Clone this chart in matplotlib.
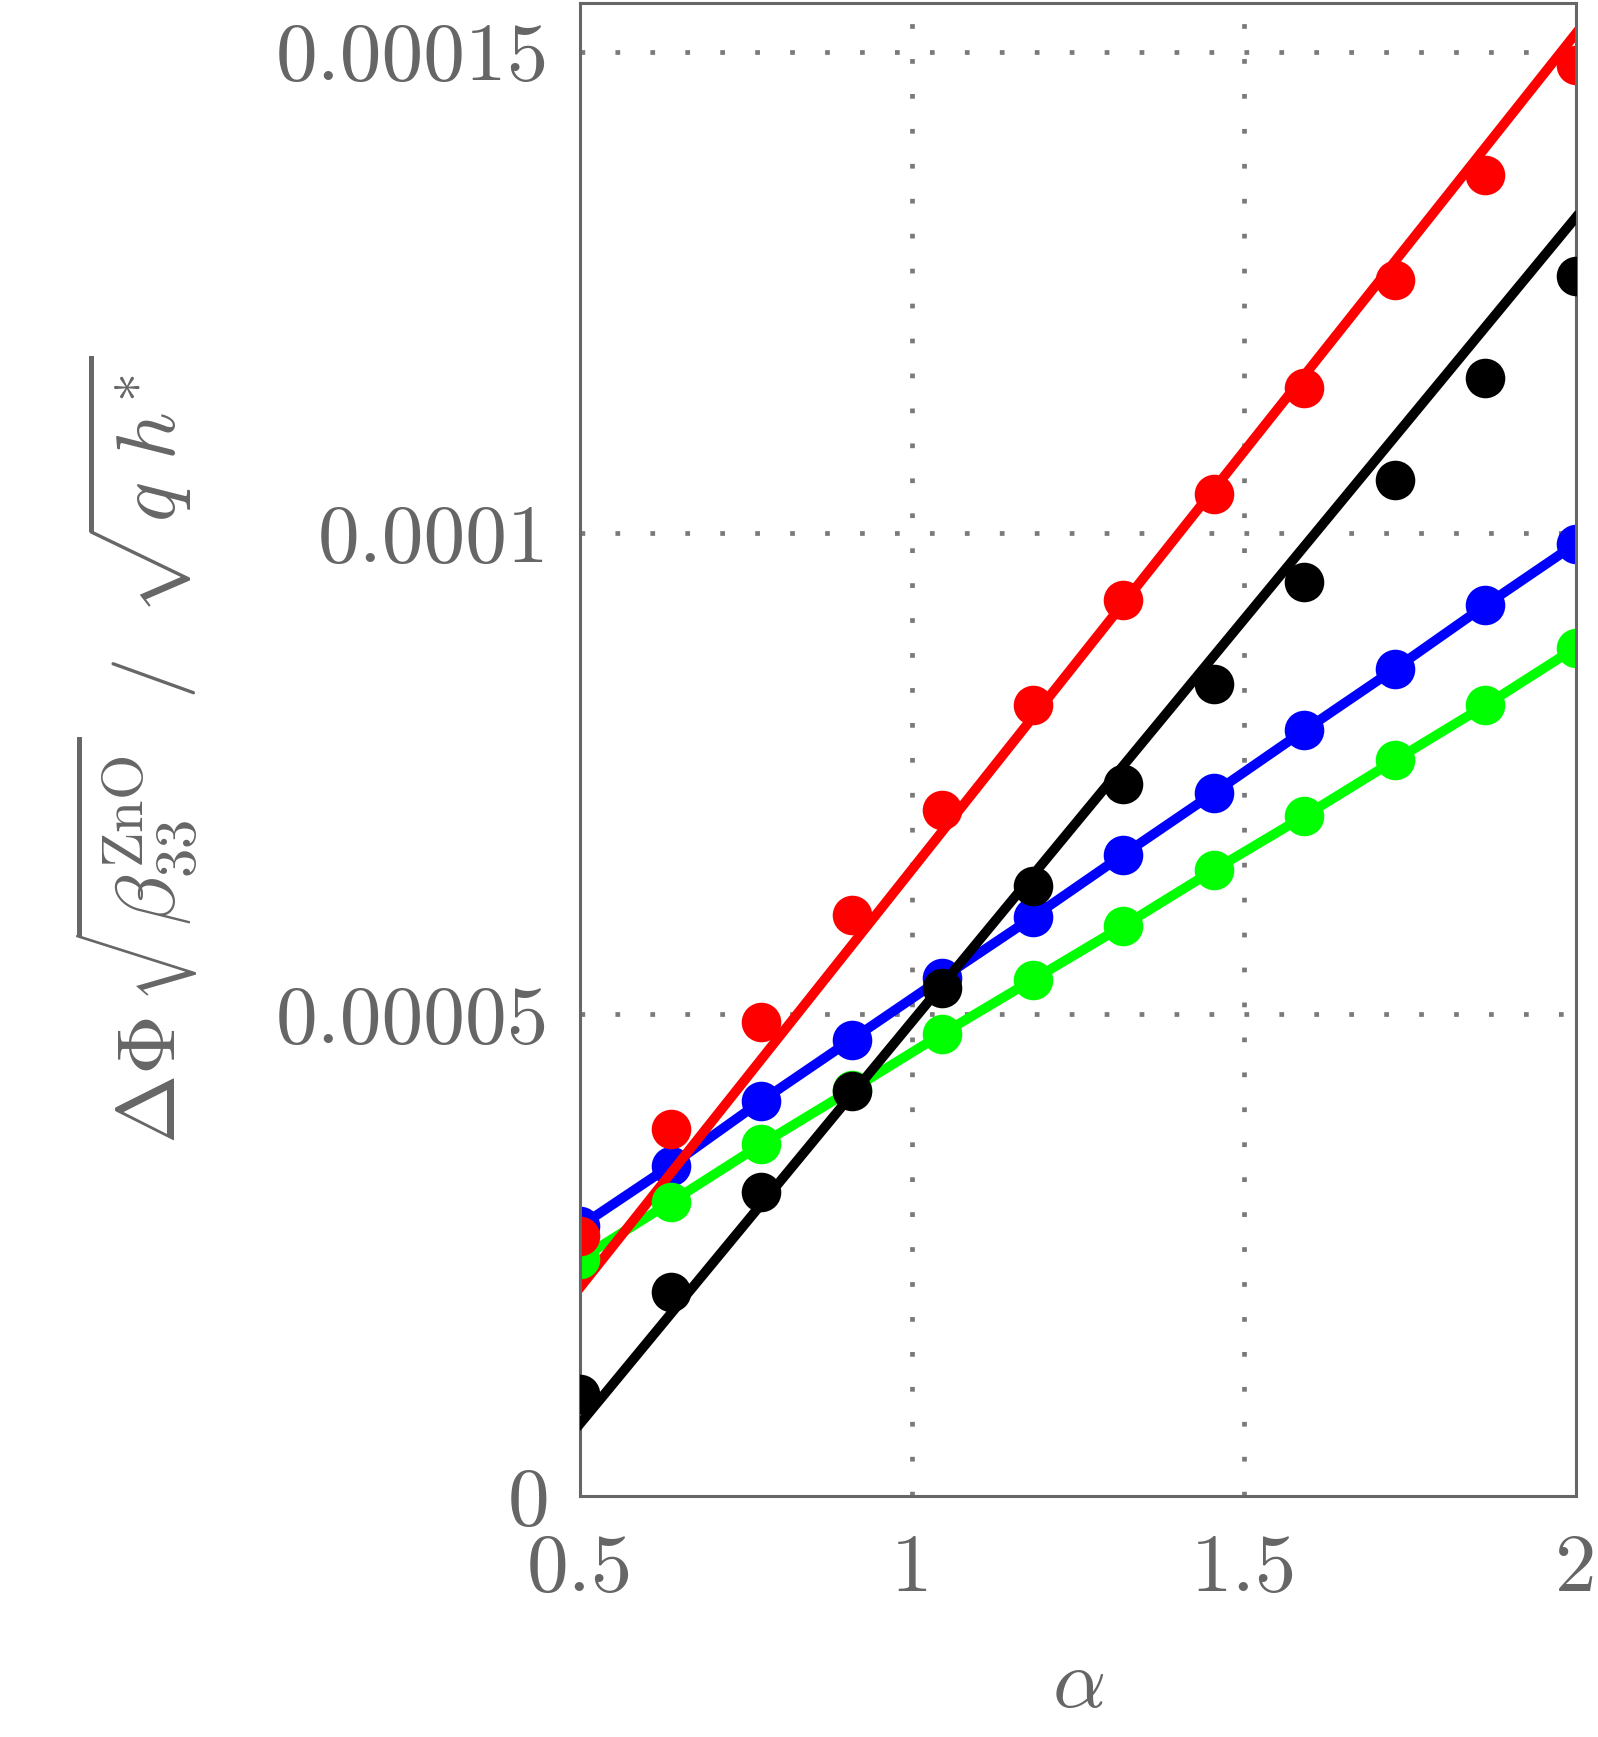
import numpy as np
import matplotlib
matplotlib.use("Agg")
import matplotlib.pyplot as plt

# alpha values of the sampled points
alpha = [0.5, 0.6364, 0.7727, 0.9091, 1.0455, 1.1818, 1.3182, 1.4545, 1.5909, 1.7273, 1.8636, 2.0]

# data points
red_pts = [2.70e-5, 3.81e-5, 4.92e-5, 6.03e-5, 7.12e-5, 8.21e-5, 9.31e-5, 1.041e-4, 1.151e-4, 1.263e-4, 1.372e-4, 1.486e-4]
black_pts = [1.06e-5, 2.12e-5, 3.16e-5, 4.21e-5, 5.28e-5, 6.33e-5, 7.39e-5, 8.43e-5, 9.49e-5, 1.055e-4, 1.161e-4, 1.267e-4]
blue_pts = [2.80e-5, 3.43e-5, 4.10e-5, 4.74e-5, 5.38e-5, 6.01e-5, 6.66e-5, 7.30e-5, 7.95e-5, 8.59e-5, 9.25e-5, 9.89e-5]
green_pts = [2.46e-5, 3.05e-5, 3.65e-5, 4.22e-5, 4.80e-5, 5.36e-5, 5.92e-5, 6.50e-5, 7.06e-5, 7.64e-5, 8.21e-5, 8.81e-5]

# straight reference lines (end values)
fit_x = [0.5, 2.0]
red_fit = [2.165e-5, 1.519e-4]
black_fit = [7.5e-6, 1.328e-4]

xticks = [0.5, 1, 1.5, 2]
xlabels = ["0.5", "1", "1.5", "2"]
yticks = [0, 5e-5, 1e-4, 1.5e-4]
ylabels = ["0", "0.00005", "0.0001", "0.00015"]

plt.rcParams['mathtext.fontset'] = 'cm'
gray = '#666666'

fig = plt.figure(figsize=(15.98, 17.37), dpi=100)
ax = fig.add_axes([0.3630, 0.1388, 0.6232, 0.8595])

lw = 7
ms = 28.5
ax.plot(alpha, blue_pts, color='#0000FF', lw=lw, zorder=2.0)
ax.plot(alpha, blue_pts, 'o', color='#0000FF', ms=ms, mew=0, zorder=2.1)
ax.plot(alpha, green_pts, color='#00FF00', lw=lw, zorder=2.2)
ax.plot(fit_x, red_fit, color='#FF0000', lw=lw, zorder=2.3)
ax.plot(alpha, green_pts, 'o', color='#00FF00', ms=ms, mew=0, zorder=2.4)
ax.plot(alpha, red_pts, 'o', color='#FF0000', ms=ms, mew=0, zorder=2.5)
ax.plot(fit_x, black_fit, color='black', lw=lw, zorder=2.6)
ax.plot(alpha, black_pts, 'o', color='black', ms=ms, mew=0, zorder=2.7)

ax.set_xlim(0.5, 2.0)
ax.set_ylim(0, 1.5506e-4)

# dotted grid at interior ticks
for xv in [1, 1.5]:
    ax.axvline(xv, color='#7a7a7a', lw=3.4, ls=(0, (1, 6.4)), zorder=1)
for yv in [5e-5, 1e-4, 1.5e-4]:
    ax.axhline(yv, color='#7a7a7a', lw=3.4, ls=(0, (1, 6.4)), zorder=1)

ax.set_xticks(xticks)
ax.set_xticklabels(xlabels, fontfamily='cmr10', fontsize=60, color=gray)
ax.set_yticks(yticks)
ax.set_yticklabels(ylabels, fontfamily='cmr10', fontsize=60, color=gray)
ax.tick_params(length=0)
ax.tick_params(axis='y', pad=22)
ax.tick_params(axis='x', pad=27)

for s in ax.spines.values():
    s.set_color(gray)
    s.set_linewidth(2.2)

ax.set_xlabel(r'$\alpha$', fontsize=60, color=gray, labelpad=26)
ax.set_ylabel(r'$\Delta\Phi\,\sqrt{\beta_{33}^{\mathrm{ZnO}}}\;\;/\;\;\sqrt{q\ h^{*}}$',
              fontsize=60, color=gray, labelpad=55)

fig.savefig('out.png', dpi=100)
